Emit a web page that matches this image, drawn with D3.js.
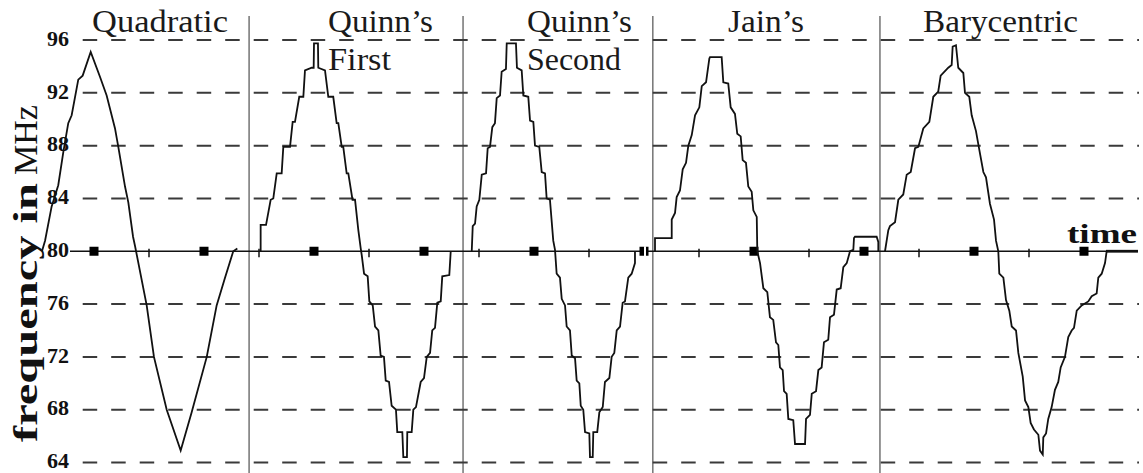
<!DOCTYPE html>
<html>
<head>
<meta charset="utf-8">
<title>Frequency estimators</title>
<style>
  body { margin: 0; background: #fff; }
  svg { display: block; }
  .grid { stroke: #3a3a3a; stroke-width: 2; stroke-dasharray: 14.5 14; fill: none; }
  .sep { stroke: #7c7c7c; stroke-width: 1.6; }
  .trace { fill: none; stroke: #111; stroke-width: 1.8; }
  .title { font-family: "Liberation Serif", "DejaVu Serif", serif; font-size: 32px; fill: #1a1a1a; }
  .ticklab { font-family: "Liberation Serif", serif; font-weight: bold; font-size: 22px; fill: #111; }
  .ylab { font-family: "Liberation Serif", serif; font-size: 34px; fill: #111; }
</style>
</head>
<body>
<script src="https://cdn.jsdelivr.net/npm/d3@7/dist/d3.min.js"></script>
<script>
var width = 1143,
	height = 473;

// y ticks in MHz, time markers (arbitrary units)
var freqTicks = [64, 68, 72, 76, 80, 84, 88, 92, 96];
var markerTimes = [0, 10, 20, 30, 40, 50, 60, 70, 80, 90];
var minorTimes = [5, 15, 25, 35, 45, 55, 65, 75, 85];
var panelEdges = [14.1, 33.55, 50.8, 71.45];
var panelNames = [["Quadratic"], ["Quinn\u2019s", "First"], ["Quinn\u2019s", "Second"], ["Jain\u2019s"], ["Barycentric"]];

// [time, MHz] traces, one per estimator
var quadratic = [[-4.73,80.0],[-4.45,80.8],[-3.85,83.4],[-3.25,85.0],[-2.79,87.5],[-2.34,89.7],[-2.03,90.3],[-1.43,93.0],[-1.03,93.3],[-0.30,95.1],[0.55,93.2],[1.15,91.8],[1.91,89.3],[2.21,87.9],[2.82,84.9],[3.12,83.7],[3.55,81.1],[3.73,80.4],[4.79,75.9],[5.45,72.0],[6.61,68.0],[7.88,64.9],[8.88,67.8],[10.25,72.0],[11.15,75.9],[11.91,78.0],[12.66,80.0],[13.03,80.2]];

var quinnFirst = [[15.15,80.0],[15.15,82.0],[15.64,82.0],[16.06,83.9],[16.3,84.0],[16.61,85.9],[17.06,85.9],[17.21,87.9],[17.82,87.9],[18.06,89.8],[18.27,89.8],[18.66,91.7],[19.03,91.7],[19.18,93.7],[19.79,93.9],[19.97,93.9],[20.0,95.75],[20.36,95.75],[20.39,93.9],[21.0,93.7],[21.3,91.7],[21.75,91.7],[22.06,89.7],[22.21,89.7],[22.52,87.9],[22.66,87.9],[22.97,85.9],[23.12,85.9],[23.5,83.9],[23.73,83.9],[24.03,81.6],[24.25,80.2],[24.34,79.7],[24.55,78.3],[24.88,78.1],[25.03,76.2],[25.34,75.9],[25.55,74.3],[25.85,74.0],[26.06,72.1],[26.36,72.0],[26.52,70.2],[26.82,70.1],[27.06,68.3],[27.45,68.0],[27.57,66.3],[28.03,66.3],[28.12,64.4],[28.45,64.4],[28.48,66.3],[28.88,66.3],[29.03,68.0],[29.27,68.2],[29.7,70.1],[30.0,70.4],[30.25,72.0],[30.55,72.3],[30.75,74.0],[31.0,74.2],[31.21,76.1],[31.52,76.2],[31.66,78.1],[32.3,78.2],[32.43,80.0]];

var quinnSecond = [[34.34,80.0],[34.43,81.9],[34.64,82.1],[34.79,83.4],[35.03,83.9],[35.25,85.8],[35.64,85.9],[35.79,87.8],[36.0,87.9],[36.21,89.4],[36.45,89.7],[36.61,91.6],[36.91,91.8],[37.06,93.6],[37.45,93.8],[37.52,95.75],[38.36,95.75],[38.45,93.9],[38.88,93.7],[39.03,91.8],[39.48,91.7],[39.64,89.9],[39.94,89.8],[40.09,88.0],[40.48,87.9],[40.7,86.0],[41.0,85.9],[41.15,84.0],[41.45,83.9],[41.75,80.8],[41.91,80.1],[42.06,78.3],[42.36,78.0],[42.52,76.4],[42.82,75.9],[42.97,74.3],[43.27,74.0],[43.43,72.1],[43.73,71.9],[43.88,70.2],[44.12,70.0],[44.25,68.3],[44.48,68.0],[44.64,66.3],[45.03,66.2],[45.09,64.4],[45.34,64.4],[45.39,66.3],[45.75,66.3],[45.94,67.8],[46.25,68.2],[46.45,70.1],[46.85,70.4],[47.06,72.0],[47.3,72.3],[47.52,74.0],[47.82,74.3],[48.06,76.1],[48.27,76.2],[48.57,78.0],[48.88,78.3],[49.18,79.1],[49.18,80.0]];

var jain = [[51.0,80.0],[51.0,81.0],[52.52,81.0],[52.52,82.4],[52.82,82.9],[52.97,84.1],[53.27,84.6],[53.52,86.2],[53.82,86.7],[54.03,88.0],[54.34,88.8],[54.64,90.3],[55.03,90.9],[55.25,92.5],[55.64,92.8],[55.94,94.6],[56.0,94.7],[57.06,94.7],[57.21,92.8],[57.66,92.7],[57.88,90.9],[58.27,90.4],[58.48,88.9],[58.79,88.7],[58.97,86.9],[59.27,86.7],[59.48,84.9],[59.79,84.5],[59.94,83.1],[60.25,82.6],[60.3,80.0],[60.55,79.1],[60.85,77.2],[61.21,76.9],[61.45,75.0],[61.75,74.8],[62.0,73.1],[62.21,72.9],[62.36,71.2],[62.61,71.0],[62.73,69.4],[62.97,69.2],[63.12,67.3],[63.57,67.2],[63.73,65.4],[64.64,65.4],[64.73,67.3],[65.09,67.6],[65.25,69.2],[65.64,69.4],[65.85,71.0],[66.15,71.2],[66.36,73.1],[66.75,73.3],[66.91,75.0],[67.27,75.2],[67.52,77.1],[67.88,77.2],[68.12,78.8],[68.43,79.1],[68.73,80.0],[69.03,80.1],[69.09,81.0],[69.18,81.1],[71.15,81.1],[71.3,80.7],[71.3,80.0]];

var barycentric = [[71.91,80.0],[72.21,81.6],[72.36,81.9],[72.82,82.2],[73.12,83.9],[73.57,84.3],[73.88,85.8],[74.25,86.0],[74.64,87.8],[74.94,87.9],[75.39,89.3],[75.94,89.8],[76.3,91.7],[76.75,92.1],[76.97,93.3],[77.66,93.9],[77.97,94.1],[78.06,95.5],[78.36,95.6],[78.57,93.9],[79.03,93.5],[79.18,92.0],[79.57,91.7],[79.79,90.3],[80.18,89.1],[80.48,87.7],[80.85,86.0],[81.09,85.6],[81.45,83.6],[81.82,82.4],[82.0,80.8],[82.21,80.0],[82.3,78.3],[82.67,78.0],[82.91,76.3],[83.21,75.5],[83.43,74.3],[83.82,74.0],[84.03,72.3],[84.43,70.5],[84.64,68.7],[84.94,68.2],[85.15,67.0],[85.45,66.5],[85.85,66.1],[86.0,64.9],[86.25,64.6],[86.3,65.9],[86.55,66.2],[86.75,67.3],[87.06,68.2],[87.36,69.5],[87.66,70.1],[87.88,71.2],[88.27,72.0],[88.57,73.5],[88.88,74.0],[89.09,74.2],[89.34,75.5],[89.79,75.9],[90.39,76.2],[90.7,76.6],[91.15,76.8],[91.3,78.0],[91.61,78.3],[91.91,79.1],[92.06,80.0]];

var traces = [quadratic, quinnFirst, quinnSecond, jain, barycentric];

// layout
var titleX = [92, 328, 527, 728, 923],
	titleW = [[136], [105, 63], [105, 94], [76], [155]];

var x = d3.scaleLinear().domain([0, 90]).range([94, 1084]),
	y = d3.scaleLinear().domain([64, 96]).range([462.5, 40]);
var y80 = y(80);

var svg = d3.select("body").append("svg")
	.attr("width", width)
	.attr("height", height);

// panel separators
svg.selectAll(".sep").data(panelEdges).enter().append("line")
	.attr("class", "sep")
	.attr("x1", function(d) { return x(d); })
	.attr("x2", function(d) { return x(d); })
	.attr("y1", 16).attr("y2", height);

// dashed grid
svg.selectAll(".grid").data(freqTicks.filter(function(d) { return d != 80; })).enter().append("line")
	.attr("class", "grid")
	.attr("x1", 82.7).attr("x2", 1139)
	.attr("y1", function(d) { return y(d); })
	.attr("y2", function(d) { return y(d); });

// tick labels
var yAxis = svg.append("g")
	.attr("transform", "translate(73,0)")
	.call(d3.axisLeft(y).tickValues(freqTicks).tickSize(0).tickPadding(4));
yAxis.select(".domain").remove();
yAxis.selectAll("text").attr("class", "ticklab").attr("dy", "0.24em");

// time axis at 80 MHz
svg.append("line").attr("x1", 70).attr("x2", 1108).attr("y1", y80).attr("y2", y80)
	.attr("stroke", "#111").attr("stroke-width", 1.6);
svg.append("line").attr("x1", 1106).attr("x2", 1138).attr("y1", y80).attr("y2", y80)
	.attr("stroke", "#111").attr("stroke-width", 2.8);

svg.selectAll(".minor").data(minorTimes).enter().append("line")
	.attr("class", "minor")
	.attr("x1", function(d) { return x(d); })
	.attr("x2", function(d) { return x(d); })
	.attr("y1", y80 - 2.5).attr("y2", y80 + 6)
	.attr("stroke", "#111").attr("stroke-width", 1.5);

svg.selectAll(".mark").data(markerTimes).enter().append("rect")
	.attr("class", "mark")
	.attr("x", function(d) { return x(d) - 4.5; })
	.attr("y", y80 - 4.5)
	.attr("width", 9).attr("height", 9)
	.attr("fill", "#000");

// the marker under the Jain's boundary has a white gap through it
svg.append("line")
	.attr("x1", x(50) + 1).attr("x2", x(50) + 1)
	.attr("y1", y80 - 5).attr("y2", y80 + 5)
	.attr("stroke", "#fff").attr("stroke-width", 2);

var line = d3.line()
	.x(function(d) { return x(d[0]); })
	.y(function(d) { return y(d[1]); });

svg.selectAll(".trace").data(traces).enter().append("path")
	.attr("class", "trace")
	.attr("d", line);

// titles
panelNames.forEach(function(lines, i) {
	lines.forEach(function(s, j) {
		svg.append("text")
			.attr("class", "title")
			.attr("x", titleX[i])
			.attr("y", 32 + 38 * j)
			.attr("textLength", titleW[i][j])
			.attr("lengthAdjust", "spacingAndGlyphs")
			.text(s);
	});
});

// y label
svg.append("text")
	.attr("class", "ylab")
	.attr("transform", "translate(37,442)rotate(-90)")
	.attr("font-weight", "bold")
	.attr("textLength", 259)
	.attr("lengthAdjust", "spacingAndGlyphs")
	.text("frequency in");
svg.append("text")
	.attr("class", "ylab")
	.attr("transform", "translate(37,175)rotate(-90)")
	.attr("textLength", 70)
	.attr("lengthAdjust", "spacingAndGlyphs")
	.text("MHz");

svg.append("text")
	.attr("x", 1067).attr("y", 243)
	.attr("font-family", "Liberation Serif, serif")
	.attr("font-weight", "bold")
	.attr("font-size", 27)
	.attr("fill", "#111")
	.attr("textLength", 70)
	.attr("lengthAdjust", "spacingAndGlyphs")
	.text("time");
</script>
</body>
</html>
